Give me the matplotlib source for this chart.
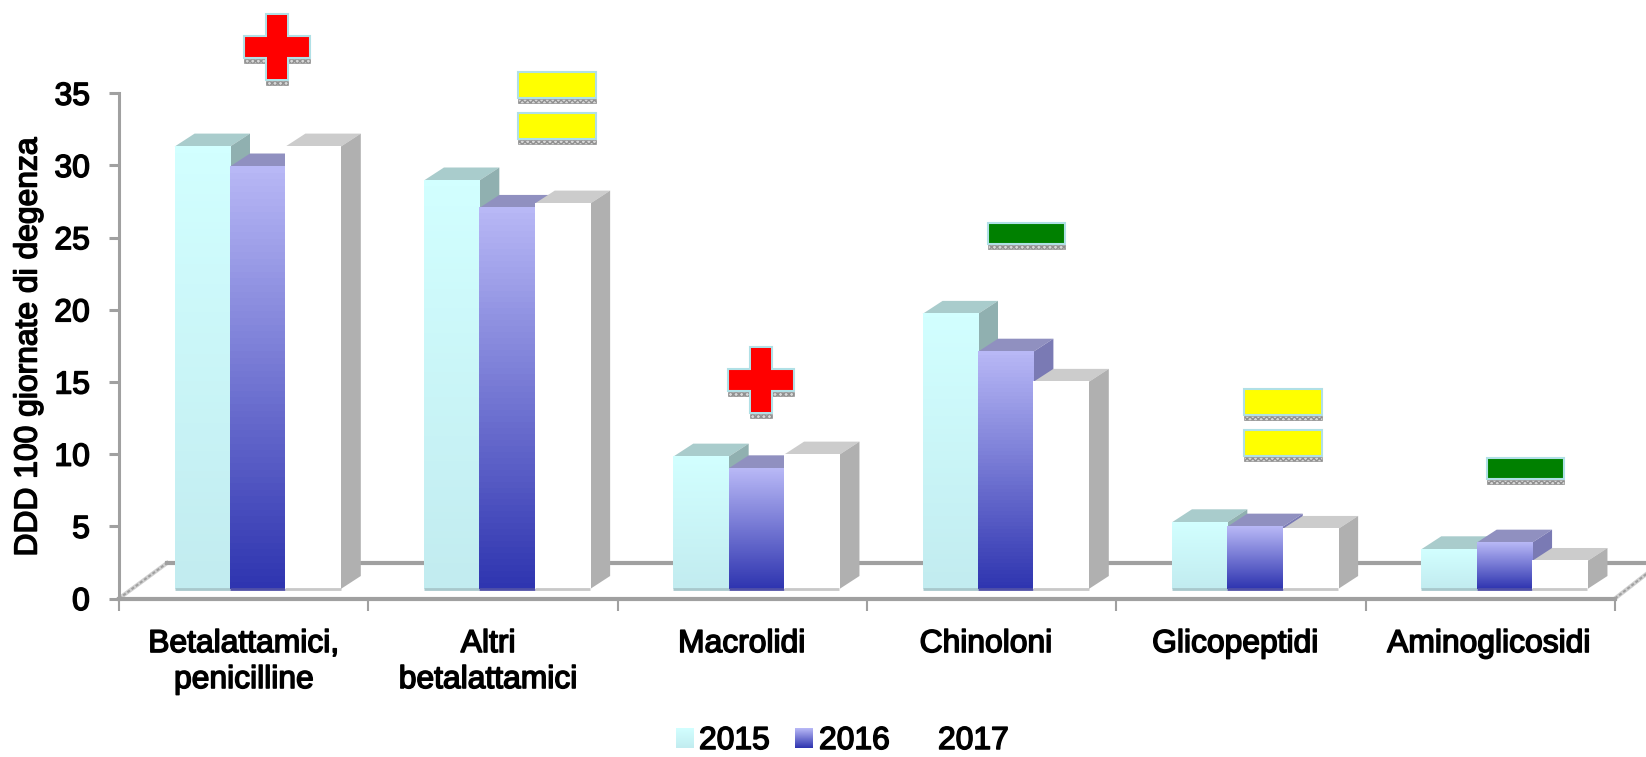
import numpy as np
import matplotlib
matplotlib.use('Agg')
import matplotlib.pyplot as plt
import matplotlib.patheffects as pe
from matplotlib.colors import LinearSegmentedColormap
from matplotlib.patches import Polygon, Rectangle

plt.rcParams['font.family'] = ['Liberation Sans', 'DejaVu Sans']

W, H = 1646, 757

categories = ['Betalattamici,\npenicilline', 'Altri\nbetalattamici', 'Macrolidi',
              'Chinoloni', 'Glicopeptidi', 'Aminoglicosidi']
years = ['2015', '2016', '2017']
v2015 = [30.65, 28.3, 9.17, 19.06, 4.62, 2.75]
v2016 = [29.27, 26.4, 8.36, 16.44, 4.32, 3.21]
v2017 = [30.65, 26.7, 9.31, 14.35, 4.16, 1.94]
signs = ['+', '=', '+', '-', '=', '-']

# where the signs sit: x in category units, y in axis units
sign_x = [0.634, 1.758, 2.575, 3.64, 4.67, 5.64]
sign_y = [38.2, 34.16, 15.14, 25.26, 12.16, 9.0]
label_x = [0.50, 1.48, 2.497, 3.477, 4.476, 5.493]

series = [v2015, v2016, v2017]
front_top = ['#d2ffff', '#b8b8f6', '#ffffff']
front_bot = ['#c2ecf0', '#2f35b0', '#ffffff']
top_col = ['#a9cccc', '#9090c0', '#cccccc']
side_col = ['#90b0b0', '#7a7ab4', '#b0b0b0']
foot_col = ['#a8c8cc', '#5050a8', '#c8c8c8']
axis_col = '#a0a0a0'

fig = plt.figure(figsize=(W / 100, H / 100), dpi=100)
ax = fig.add_axes([119 / W, 1 - 598.5 / H, (1615 - 119) / W, (598.5 - 93.3) / H])
ax.set_xlim(0, 6)
ax.set_ylim(0, 35)

px_x = 6 / (1615 - 119)
px_y = 35 / (598.5 - 93.3)
dx, dy = 20 * px_x, 13 * px_y
base = 9.5 * px_y
bar_w = 55.4 * px_x
first = 55.6 * px_x

# floor
for xs, ys in [([0, 48 * px_x], [0, 35.5 * px_y]), ([6, 6 + 32 * px_x], [0, 25 * px_y])]:
    ax.plot(xs, ys, color='#d0d0d0', lw=3, clip_on=False, zorder=1)
    ax.plot(xs, ys, color='#a0a0a0', lw=1.5, ls=(0, (1.5, 1)), clip_on=False, zorder=1)
ax.plot([48 * px_x, 6 + 40 * px_x], [35.5 * px_y] * 2, color=axis_col, lw=3, clip_on=False, zorder=1)

z = 3
for c in range(len(categories)):
    for s, vals in enumerate(series):
        x0 = c + first + s * bar_w
        x1 = x0 + bar_w
        top = base + vals[c]
        rect = ax.bar(x0, vals[c], bar_w, bottom=base, align='edge', color=front_top[s], zorder=z)[0]
        cmap = LinearSegmentedColormap.from_list('g', [front_top[s], front_bot[s]])
        im = ax.imshow(np.linspace(0, 1, 64).reshape(-1, 1), extent=(x0, x1, base, top), origin='upper',
                       aspect='auto', cmap=cmap, zorder=z + 0.1)
        ax.add_patch(Polygon([(x0, top), (x1, top), (x1 + dx, top + dy), (x0 + dx, top + dy)],
                             color=top_col[s], lw=0, zorder=z))
        ax.add_patch(Polygon([(x1, base), (x1 + dx, base + dy), (x1 + dx, top + dy), (x1, top)],
                             color=side_col[s], lw=0, zorder=z))
        ax.plot([x0, x1], [base, base], color=foot_col[s], lw=2, solid_capstyle='butt', zorder=z + 0.2)
        z += 1
ax.set_xlim(0, 6)
ax.set_ylim(0, 35)


def draw_sign(kind, x, y):
    col = {'+': '#ff0000', '=': '#ffff00', '-': '#008000'}[kind]
    edge = '#b0e0e6'
    def box(cx, cy, w, h):
        ax.add_patch(Rectangle((cx - w / 2 * px_x, cy - (h / 2 + 5) * px_y), w * px_x, 4 * px_y, fc='#d8d8d8',
                               ec='#909090', lw=0.5, hatch='xxxxxx', clip_on=False, zorder=100))
        ax.add_patch(Rectangle((cx - w / 2 * px_x, cy - h / 2 * px_y), w * px_x, h * px_y, fc=col, ec=edge,
                               lw=1.5, clip_on=False, zorder=101))
    if kind == '+':
        box(x, y, 22, 66)
        box(x, y, 66, 22)
        ax.add_patch(Rectangle((x - 10 * px_x, y - 32 * px_y), 20 * px_x, 64 * px_y, fc=col, lw=0, clip_on=False, zorder=102))
    elif kind == '=':
        box(x, y + 20.5 * px_y, 78, 26)
        box(x, y - 20.5 * px_y, 78, 26)
    else:
        box(x, y, 77, 21)


for kind, x, y in zip(signs, sign_x, sign_y):
    draw_sign(kind, x, y)

# axes
for side in ['top', 'right']:
    ax.spines[side].set_visible(False)
ax.spines['left'].set_color(axis_col)
ax.spines['left'].set_linewidth(2.2)
ax.spines['bottom'].set_color(axis_col)
ax.spines['bottom'].set_linewidth(3)
ax.spines['left'].set_zorder(200)
ax.spines['bottom'].set_zorder(200)

stroke = [pe.withStroke(linewidth=1.1, foreground='black')]
ax.set_yticks(range(0, 36, 5))
ax.tick_params(axis='y', length=7.5, width=2.2, color=axis_col, labelsize=22.9, pad=13.5)
ax.set_xticks(range(7))
ax.set_xticks(label_x, labels=categories, minor=True)
ax.tick_params(axis='x', which='major', length=8.5, width=1.5, color=axis_col, labelbottom=False)
ax.tick_params(axis='x', which='minor', length=0, labelsize=22.9, pad=22)
for t in ax.get_yticklabels() + ax.get_xticklabels(minor=True):
    t.set_path_effects(stroke)
    t.set_linespacing(1.26)

fig.text(28.5 / W, 1 - 347 / H, 'DDD 100 giornate di degenza', rotation=90, ha='center', va='center',
         fontsize=22.9, path_effects=stroke)

# legend
swatch_x = [676, 795, 915]
text_x = [699, 819, 938]
for s, yr in enumerate(years):
    sx = swatch_x[s]
    cmap = LinearSegmentedColormap.from_list('g', [front_top[s], front_bot[s]])
    lax = fig.add_axes([sx / W, 1 - 748 / H, 18 / W, 20 / H])
    lax.imshow(np.linspace(0, 1, 32).reshape(-1, 1), aspect='auto', cmap=cmap)
    lax.axis('off')
    fig.text(text_x[s] / W, 1 - 741 / H, yr, ha='left', va='center', fontsize=22.9, path_effects=stroke)

fig.savefig('out.png', dpi=100)
